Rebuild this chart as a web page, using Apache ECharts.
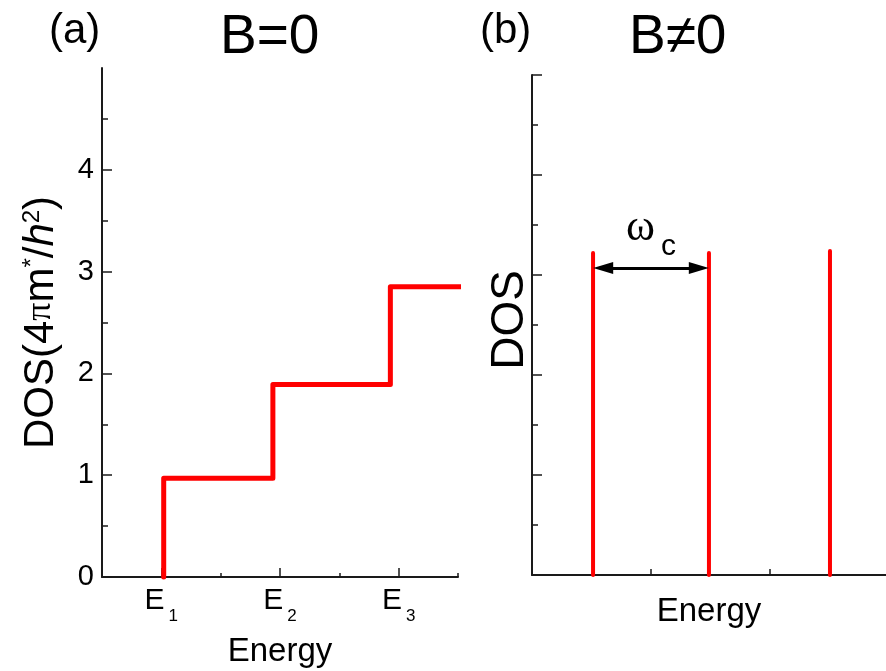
<!DOCTYPE html>
<html>
<head>
<meta charset="utf-8">
<script src="https://cdn.jsdelivr.net/npm/echarts@6/dist/echarts.min.js"></script>
<style>
html,body{margin:0;padding:0;background:#fff;}
#c{width:886px;height:671px;}
</style>
</head>
<body>
<div id="c"></div>
<script>
// ---- data ----
// panel (a): step-like DOS for B=0
const stepX = [1.02, 1.02, 1.94, 1.94, 2.93, 2.93, 3.53];
const stepY = [0, 0.97, 0.97, 1.89, 1.89, 2.85, 2.85];
const levelNames = ['1', '2', '3'];          // E subscripts
const levelTicks = [1, 2, 3];                // E positions
const yTicksA = [0, 1, 2, 3, 4];
const yMinorA = [0.5, 1.5, 2.5, 3.5, 4.5];
const xMinorA = [1.5, 2.5, 3.5];
// panel (b): Landau levels for B≠0
const llX = [0.513, 1.487, 2.504];
const llY = [3.22, 3.22, 3.24];
const arrowY = 3.07;
const arrowInset = 0.085;
const yTicksB = [1, 2, 3, 4, 5];
const yMinorB = [0.5, 1.5, 2.5, 3.5, 4.5];
const xTicksB = [1, 2];

const FONT = '"Liberation Sans", Arial, sans-serif';
const SERIF = '"Liberation Serif", "Times New Roman", serif';
const AX = '#1a1a1a';
const RED = '#ff0000';

const chart = echarts.init(document.getElementById('c'), null, {renderer: 'canvas'});

function baseAxis(extra) {
  return Object.assign({
    type: 'value',
    splitLine: {show: false},
    axisLine: {show: true, onZero: false, lineStyle: {color: AX, width: 2}},
    axisTick: {show: false},
    axisLabel: {show: false},
    minorTick: {show: false}
  }, extra);
}
function tickAxis(extra, values, len) {
  return Object.assign({
    type: 'value',
    offset: 0,
    splitLine: {show: false},
    axisLine: {show: false, onZero: false},
    axisLabel: {show: false},
    axisTick: {show: true, inside: true, length: len, customValues: values, lineStyle: {color: AX, width: 1.5}}
  }, extra);
}

const stepData = stepX.map((x, i) => [x, stepY[i]]);

const series = [
  {
    type: 'line', xAxisIndex: 0, yAxisIndex: 0, data: stepData,
    symbol: 'none', clip: false, silent: true,
    lineStyle: {color: RED, width: 5, cap: 'round', join: 'round'}
  }
];
llX.forEach((x, i) => {
  const s = {
    type: 'line', xAxisIndex: 2, yAxisIndex: 2, data: [[x, 0], [x, llY[i]]],
    symbol: 'none', clip: false, silent: true,
    lineStyle: {color: RED, width: 4, cap: 'round'}
  };
  if (i === 0) {
    s.markLine = {
      silent: true,
      symbol: ['triangle', 'triangle'],
      symbolSize: [12, 20],
      lineStyle: {color: '#000', width: 3, type: 'solid'},
      label: {
        show: true, position: 'middle', distance: 18,
        formatter: '{w|ω}{c|c}',
        rich: {
          w: {fontFamily: SERIF, fontSize: 44, color: '#000', verticalAlign: 'top', lineHeight: 44},
          c: {fontFamily: FONT, fontSize: 30, color: '#000', verticalAlign: 'top', lineHeight: 30, padding: [26, 0, 0, 6]}
        }
      },
      data: [[{coord: [llX[0] + arrowInset, arrowY]}, {coord: [llX[1] - arrowInset, arrowY]}]]
    };
  }
  series.push(s);
});

const option = {
  backgroundColor: '#fff',
  animation: false,
  title: [
    {text: '(a)', left: 44, top: 5, textStyle: {fontFamily: FONT, fontSize: 42, fontWeight: 'normal', color: '#000'}},
    {text: 'B=0', left: 215, top: 5, textStyle: {fontFamily: FONT, fontSize: 55, fontWeight: 'normal', color: '#000'}},
    {text: '(b)', left: 475, top: 5, textStyle: {fontFamily: FONT, fontSize: 42, fontWeight: 'normal', color: '#000'}},
    {text: 'B≠0', left: 624, top: 5, textStyle: {fontFamily: FONT, fontSize: 55, fontWeight: 'normal', color: '#000'}}
  ],
  grid: [
    {left: 102, top: 68, width: 356, height: 509, outerBoundsMode: 'none', containLabel: false},
    {left: 532, top: 75, width: 354, height: 500, outerBoundsMode: 'none', containLabel: false}
  ],
  xAxis: [
    baseAxis({
      gridIndex: 0, position: 'bottom', min: 0.5, max: 3.5,
      name: 'Energy', nameLocation: 'middle', nameGap: 58,
      nameTextStyle: {fontFamily: FONT, fontSize: 33, color: '#000'},
      axisTick: {show: true, inside: true, length: 9, customValues: levelTicks, lineStyle: {color: AX, width: 1.5}},
      axisLabel: {
        show: true, customValues: levelTicks, margin: 9,
        formatter: function (v) { return '{e|E}{s|' + levelNames[Math.round(v) - 1] + '}'; },
        rich: {
          e: {fontFamily: FONT, fontSize: 30, color: '#000', verticalAlign: 'top', lineHeight: 30},
          s: {fontFamily: FONT, fontSize: 17, color: '#000', verticalAlign: 'top', lineHeight: 17, padding: [22, 0, 0, 4]}
        }
      }
    }),
    tickAxis({gridIndex: 0, position: 'bottom', min: 0.5, max: 3.5}, xMinorA, 4),
    baseAxis({
      gridIndex: 1, position: 'bottom', min: 0, max: 354 / 119,
      name: 'Energy', nameLocation: 'middle', nameGap: 20,
      nameTextStyle: {fontFamily: FONT, fontSize: 33, color: '#000'},
      axisTick: {show: true, inside: true, length: 6, customValues: xTicksB, lineStyle: {color: AX, width: 1.5}}
    })
  ],
  yAxis: [
    baseAxis({
      gridIndex: 0, position: 'left', min: 0, max: 5,
      name: 'DOS(4{pi|π}m{sup|*}/{it|h}{sup|2})', nameLocation: 'middle', nameGap: 39, nameRotate: 90,
      nameTextStyle: {
        fontFamily: FONT, fontSize: 42, color: '#000',
        rich: {
          pi: {fontFamily: SERIF, fontSize: 36, color: '#000'},
          sup: {fontFamily: FONT, fontSize: 24, color: '#000', verticalAlign: 'top', lineHeight: 24, padding: [0, 0, 30, 0]},
          it: {fontFamily: FONT, fontStyle: 'italic', fontSize: 42, color: '#000'}
        }
      },
      axisTick: {show: true, inside: true, length: 10, customValues: yTicksA, lineStyle: {color: AX, width: 1.5}},
      axisLabel: {show: true, customValues: yTicksA, margin: 8, fontFamily: FONT, fontSize: 29, color: '#000'}
    }),
    tickAxis({gridIndex: 0, position: 'left', min: 0, max: 5}, yMinorA, 6),
    baseAxis({
      gridIndex: 1, position: 'left', min: 0, max: 5,
      name: 'DOS', nameLocation: 'middle', nameGap: -1, nameRotate: 90,
      nameTextStyle: {fontFamily: FONT, fontSize: 46, color: '#000', padding: [0, 0, 0, 10]},
      axisTick: {show: true, inside: true, length: 10, customValues: yTicksB, lineStyle: {color: AX, width: 1.5}}
    }),
    tickAxis({gridIndex: 1, position: 'left', min: 0, max: 5}, yMinorB, 6)
  ],
  series: series
};
chart.setOption(option);
</script>
</body>
</html>
